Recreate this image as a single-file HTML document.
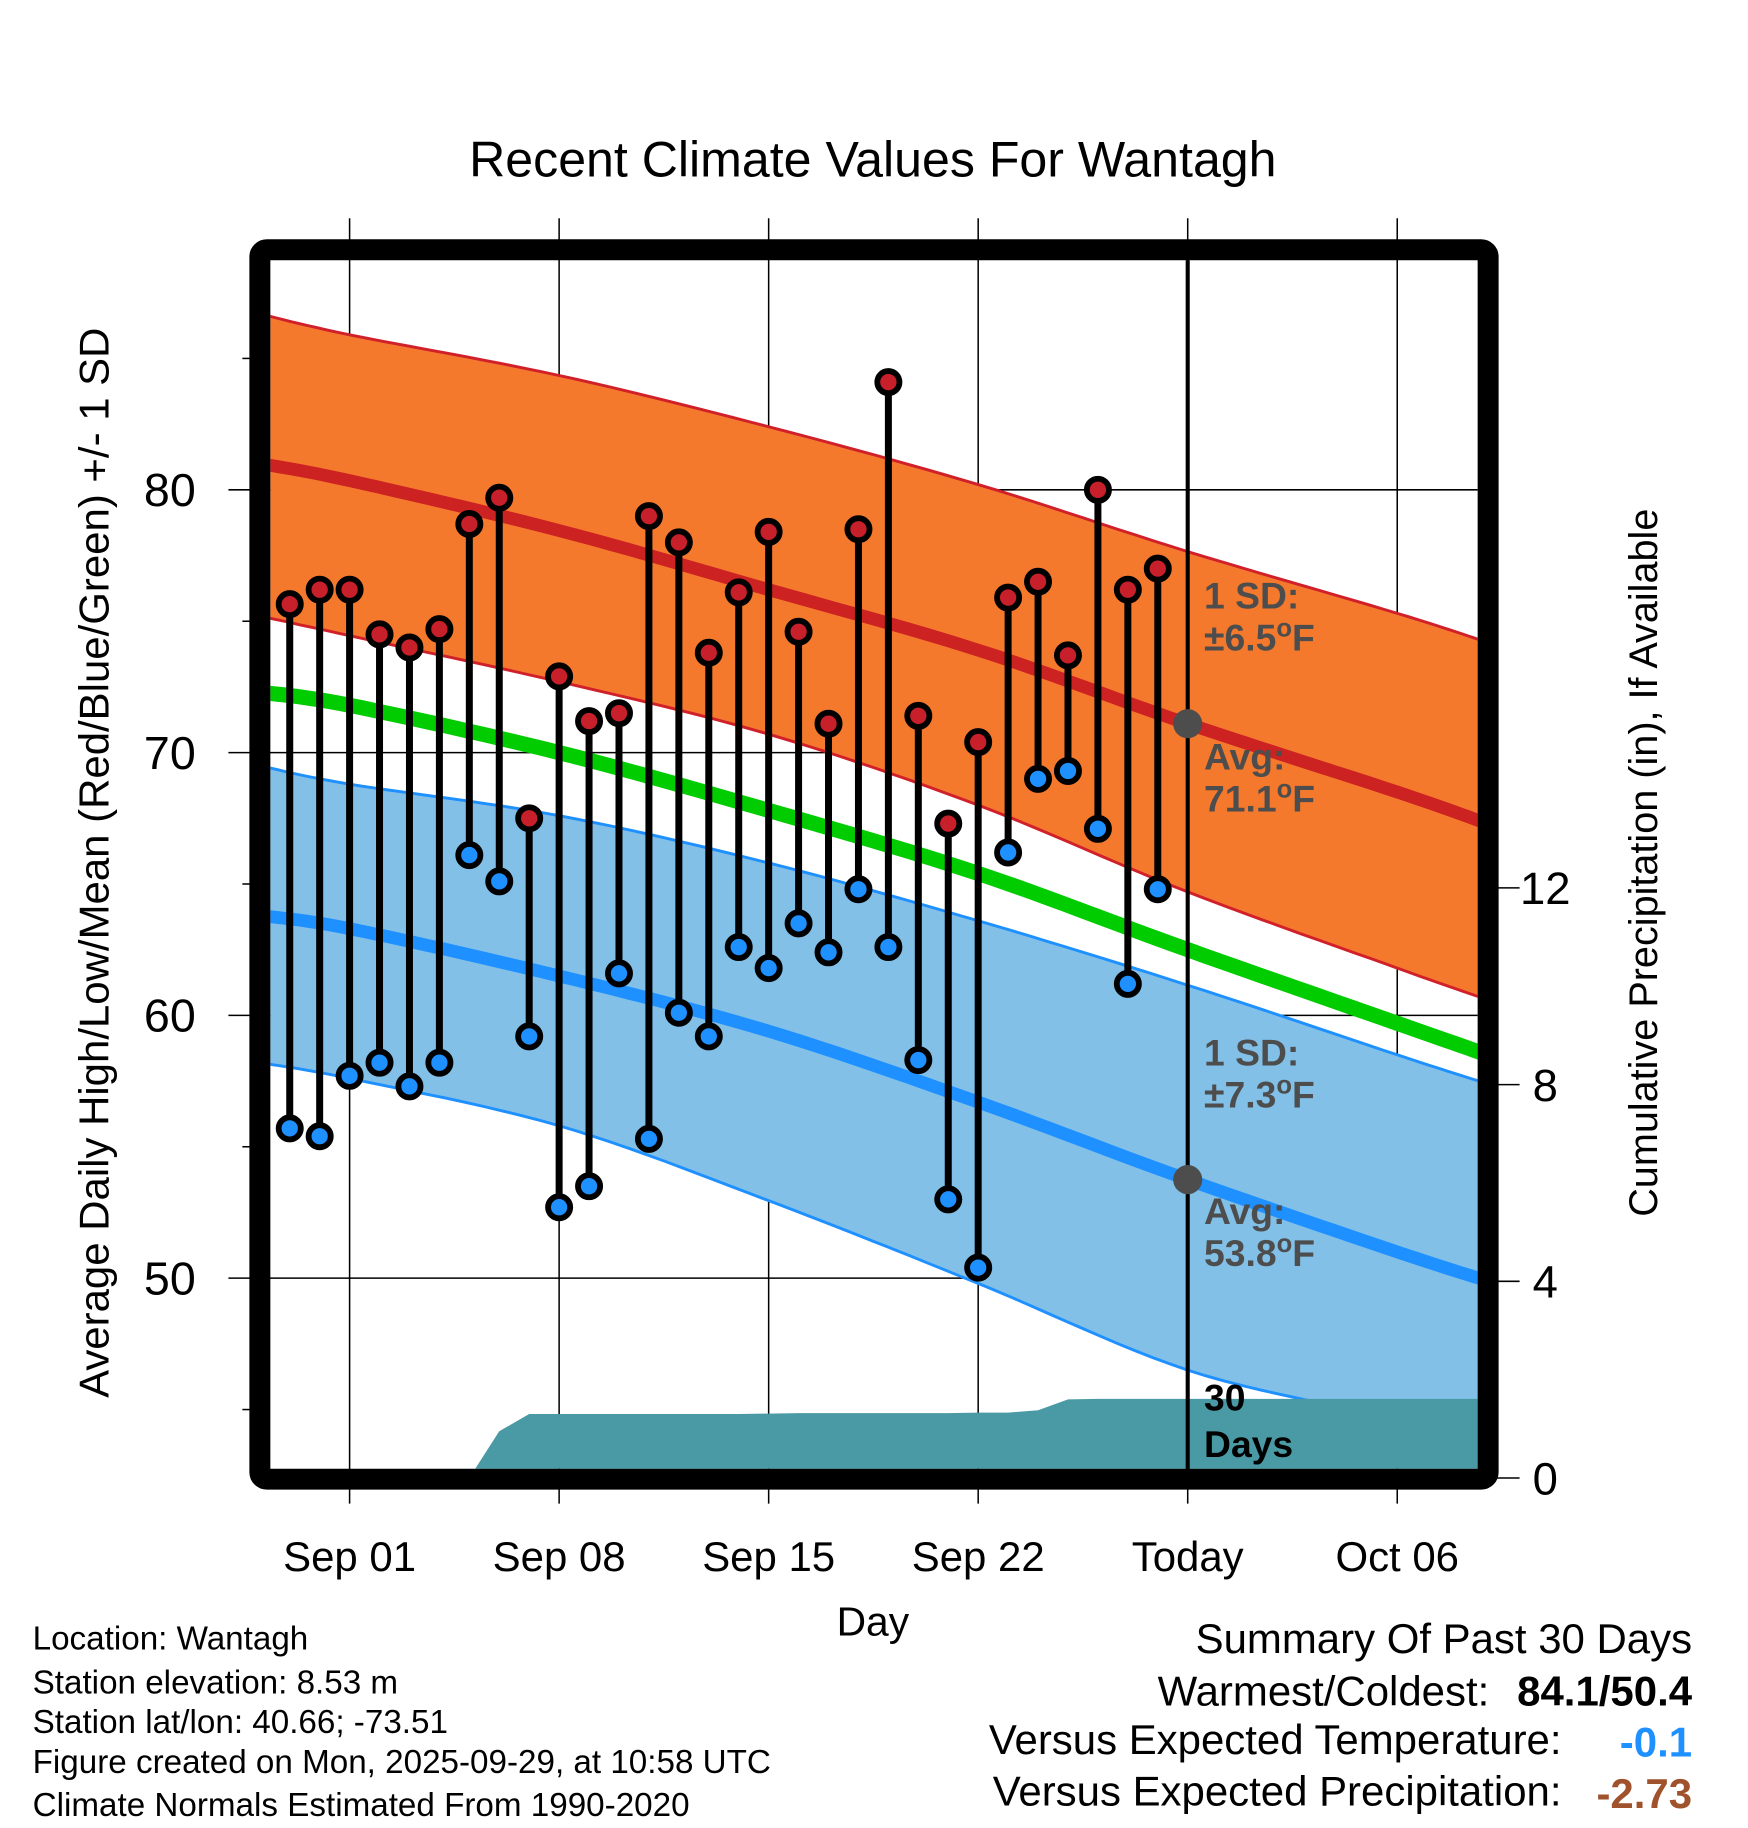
<!DOCTYPE html>
<html><head><meta charset="utf-8"><style>
html,body{margin:0;padding:0;background:#fff;}
svg{display:block;font-family:"Liberation Sans",sans-serif;}
</style></head><body>
<svg id="chart" width="1748" height="1828" viewBox="0 0 1500 1568" xmlns="http://www.w3.org/2000/svg">
<defs><clipPath id="plotclip"><rect x="232" y="223" width="1036" height="1037"/></clipPath></defs>
<text x="749" y="151" font-size="43" text-anchor="middle">Recent Climate Values For Wantagh</text>
<g id="grid"></g>
<g id="plot" clip-path="url(#plotclip)"></g>
<g id="over"></g>
<rect x="223" y="214" width="1054" height="1055" fill="none" stroke="#000" stroke-width="18" rx="6"/>
<g id="axes"></g>
<text transform="translate(93,740) rotate(-90)" font-size="36" text-anchor="middle">Average Daily High/Low/Mean (Red/Blue/Green) +/- 1 SD</text>
<text transform="translate(1422,740) rotate(-90)" font-size="34" text-anchor="middle">Cumulative Precipitation (in), If Available</text>
<text x="749" y="1403" font-size="35" text-anchor="middle">Day</text>
<g font-size="28.5">
<text x="28" y="1415">Location: Wantagh</text>
<text x="28" y="1453">Station elevation: 8.53 m</text>
<text x="28" y="1487">Station lat/lon: 40.66; -73.51</text>
<text x="28" y="1521">Figure created on Mon, 2025-09-29, at 10:58 UTC</text>
<text x="28" y="1558">Climate Normals Estimated From 1990-2020</text>
</g>
<g font-size="36" text-anchor="end">
<text x="1452" y="1418">Summary Of Past 30 Days</text>
<text x="1278" y="1463">Warmest/Coldest:</text>
<text x="1452" y="1463" font-weight="bold">84.1/50.4</text>
<text x="1340" y="1505">Versus Expected Temperature:</text>
<text x="1452" y="1507" font-weight="bold" fill="#1e90ff">-0.1</text>
<text x="1340" y="1549">Versus Expected Precipitation:</text>
<text x="1452" y="1551" font-weight="bold" fill="#a0522d">-2.73</text>
</g>
</svg>
<script>
// days relative to Sep 01 (0)
const normDays = [-3, 0, 7, 14, 21, 28, 35, 38];
const highUpper = [86.7, 85.9, 84.35, 82.4, 80.2, 77.65, 75.3, 74.2];
const highAvg = [81.0, 80.35, 78.45, 76.2, 73.9, 71.1, 68.5, 67.3];
const highLower = [75.2, 74.45, 72.7, 70.7, 68.0, 64.7, 61.8, 60.6];
const meanAvg = [72.3, 71.8, 70.0, 67.8, 65.4, 62.5, 59.7, 58.5];
const lowUpper = [69.5, 68.8, 67.6, 65.8, 63.6, 61.15, 58.5, 57.4];
const lowAvg = [63.8, 63.3, 61.5, 59.4, 56.7, 53.75, 51.0, 49.9];
const lowLower = [58.2, 57.6, 55.8, 52.95, 49.8, 46.5, 44.5, 42.6];
const obsDays = [-2,-1,0,1,2,3,4,5,6,7,8,9,10,11,12,13,14,15,16,17,18,19,20,21,22,23,24,25,26,27];
const obsHigh = [75.65,76.2,76.2,74.5,74.0,74.7,78.7,79.7,67.5,72.9,71.2,71.5,79.0,78.0,73.8,76.1,78.4,74.6,71.1,78.5,84.1,71.4,67.3,70.4,75.9,76.5,73.7,80.0,76.2,77.0];
const obsLow = [55.7,55.4,57.7,58.2,57.3,58.2,66.1,65.1,59.2,52.7,53.5,61.6,55.3,60.1,59.2,62.6,61.8,63.5,62.4,64.8,62.6,58.3,53.0,50.4,66.2,69.0,69.3,67.1,61.2,64.8];
const precipCum = [0,0,0,0,0,0,0,0.95,1.30,1.30,1.30,1.30,1.30,1.30,1.30,1.30,1.31,1.32,1.32,1.32,1.32,1.32,1.32,1.33,1.33,1.38,1.60,1.61,1.61,1.61];
const xTickDays = [0, 7, 14, 21, 28, 35];
const xTickLabels = ["Sep 01","Sep 08","Sep 15","Sep 22","Today","Oct 06"];
const yTicks = [80, 70, 60, 50];
const yMinorTicks = [85, 75, 65, 55, 45];
const pTicks = [0, 4, 8, 12];
const todayDay = 28;

const NS = "http://www.w3.org/2000/svg";
const xS = d => 300 + d * (179.8 / 7);
const yS = v => 420 + (80 - v) * 22.55;
const pS = p => 1268 - p * 42.2;
function mk(tag, attrs, parent) { const e = document.createElementNS(NS, tag); for (const k in attrs) e.setAttribute(k, attrs[k]); parent.appendChild(e); return e; }
const grid = document.getElementById('grid'), plot = document.getElementById('plot'), over = document.getElementById('over'), axes = document.getElementById('axes');
// smooth Catmull-Rom sampled points
function smooth(arr) {
  const P = arr.map((v, i) => [xS(normDays[i]), yS(v)]);
  const out = [];
  for (let i = 0; i < P.length - 1; i++) {
    const p0 = P[Math.max(0, i - 1)], p1 = P[i], p2 = P[i + 1], p3 = P[Math.min(P.length - 1, i + 2)];
    for (let k = 0; k < 12; k++) {
      const t = k / 12, t2 = t * t, t3 = t2 * t;
      const f = (a, b, c, d) => 0.5 * (2 * b + (-a + c) * t + (2 * a - 5 * b + 4 * c - d) * t2 + (-a + 3 * b - 3 * c + d) * t3);
      out.push(f(p0[0], p1[0], p2[0], p3[0]).toFixed(1) + ',' + f(p0[1], p1[1], p2[1], p3[1]).toFixed(1));
    }
  }
  const L = P[P.length - 1]; out.push(L[0].toFixed(1) + ',' + L[1].toFixed(1));
  return out;
}
function band(up, lo, fill, edge, name) {
  const p = mk('polygon', { points: smooth(up).concat(smooth(lo).reverse()).join(' '), fill: fill }, plot);
  
  
  [up, lo].forEach(a => { const l = mk('polyline', { points: smooth(a).join(' '), fill: 'none', stroke: edge, 'stroke-width': 2.5 }, plot);
    
     });
}
function line(arr, color, w, name) {
  const l = mk('polyline', { points: smooth(arr).join(' '), fill: 'none', stroke: color, 'stroke-width': w }, plot);
  
  
}
band(highUpper, highLower, '#f5792d', '#d0202a', 'high-sd-band');
band(lowUpper, lowLower, '#82c0e8', '#1e90ff', 'low-sd-band');
line(meanAvg, '#00cc00', 13, 'mean-line');
line(highAvg, '#cc2222', 11, 'avg-high-line');
line(lowAvg, '#1e90ff', 11, 'avg-low-line');
// precipitation area
let pp = [xS(obsDays[0]) + ',' + pS(0)];
precipCum.forEach((v, i) => pp.push(xS(obsDays[i]).toFixed(1) + ',' + pS(v).toFixed(1)));
pp.push('1270,' + pS(precipCum[precipCum.length - 1]).toFixed(1), '1270,' + pS(0));
const pa = mk('polygon', { points: pp.join(' '), fill: '#4a9aa5' }, plot);


// grid
xTickDays.forEach((d, i) => {
  const g = mk('line', { x1: xS(d), x2: xS(d), y1: 187, y2: 1290, stroke: '#000', 'stroke-width': 1.3 }, grid);
  
  
  const t = mk('text', { x: xS(d), y: 1348, 'font-size': 36, 'text-anchor': 'middle' }, axes);
  t.textContent = xTickLabels[i];
  
  
});
yTicks.forEach(v => {
  const g = mk('line', { x1: 196, x2: 1268, y1: yS(v), y2: yS(v), stroke: '#000', 'stroke-width': 1.3 }, grid);
  
  
  const t = mk('text', { x: 168, y: yS(v) + 14, 'font-size': 40, 'text-anchor': 'end' }, axes);
  t.textContent = v;
  
  
});
yMinorTicks.forEach(v => {
  const g = mk('line', { x1: 208, x2: 220, y1: yS(v), y2: yS(v), stroke: '#000', 'stroke-width': 1.3 }, axes);
  
  
});
pTicks.forEach(p => {
  const g = mk('line', { x1: 1284, x2: 1304, y1: pS(p), y2: pS(p), stroke: '#000', 'stroke-width': 1.3 }, axes);
  
  
  const t = mk('text', { x: 1326, y: pS(p) + 14, 'font-size': 39, 'text-anchor': 'middle' }, axes);
  t.textContent = p;
  
  
});
// observations
obsDays.forEach((d, i) => {
  const x = xS(d);
  const s = mk('line', { x1: x, x2: x, y1: yS(obsHigh[i]), y2: yS(obsLow[i]), stroke: '#000', 'stroke-width': 6 }, over);
  
  
  const h = mk('circle', { cx: x, cy: yS(obsHigh[i]), r: 9.5, fill: '#c8202a', stroke: '#000', 'stroke-width': 5 }, over);
  
  
  const l = mk('circle', { cx: x, cy: yS(obsLow[i]), r: 9.5, fill: '#1e90ff', stroke: '#000', 'stroke-width': 5 }, over);
  
  
});
// today line & markers
const tx = xS(todayDay);
const tl = mk('line', { x1: tx, x2: tx, y1: 223, y2: 1262, stroke: '#000', 'stroke-width': 3.5 }, over);


[highAvg[5], lowAvg[5]].forEach(v => {
  const c = mk('circle', { cx: tx, cy: yS(v), r: 12.5, fill: '#4d4d4d' }, over);
  
  
});
const labels = [["1 SD:", 522, '#4d4d4d'], ["±6.5", 558, '#4d4d4d', true], ["Avg:", 660, '#4d4d4d'], ["71.1", 696, '#4d4d4d', true],
  ["1 SD:", 914, '#4d4d4d'], ["±7.3", 950, '#4d4d4d', true], ["Avg:", 1050, '#4d4d4d'], ["53.8", 1086, '#4d4d4d', true],
  ["30", 1210, '#000'], ["Days", 1250, '#000']];
labels.forEach(([s, y, c, deg]) => {
  const t = mk('text', { x: tx + 14, y: y, 'font-size': 32, 'font-weight': 'bold', fill: c }, over);
  t.textContent = s;
  if (deg) {
    const o = mk('tspan', { dy: -12, 'font-size': 22 }, t); o.textContent = 'o';
    const f = mk('tspan', { dy: 12 }, t); f.textContent = 'F';
  }
  
  
});
</script>
</body></html>
